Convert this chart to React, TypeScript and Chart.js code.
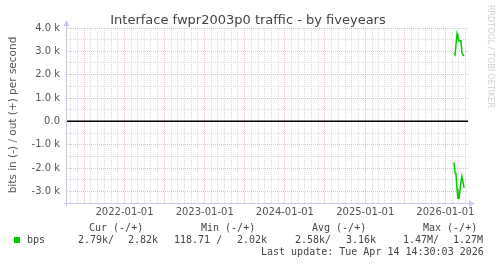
import React, { useEffect, useRef } from 'react';
import { Chart, registerables } from 'chart.js';

Chart.register(...registerables);

const TITLE = 'Interface fwpr2003p0 traffic - by fiveyears';
const Y_LABEL = 'bits in (-) / out (+) per second';
const WATERMARK = 'RRDTOOL / TOBI OETIKER';
const RANGE_START = '2021-04-14';
const RANGE_END = '2026-04-14';
const Y_MIN = -3500;
const Y_MAX = 4000;
const Y_STEP = 500;

const sampleDates = [
  '2026-02-09', '2026-02-14', '2026-02-18', '2026-02-23', '2026-02-27', '2026-03-04',
  '2026-03-08', '2026-03-13', '2026-03-17', '2026-03-22', '2026-03-27',
];
const outValues = [2920, 2850, 2850, 3750, 3600, 3450, 3450, 3450, 2950, 2850, 2800];
const inValues = [-1760, -2200, -2250, -2900, -3300, -3300, -3000, -2600, -2350, -2600, -2850];

const legendHeaders = ['Cur (-/+)', 'Min (-/+)', 'Avg (-/+)', 'Max (-/+)'];
const legendName = 'bps';
const legendStats = ['2.79k/', '2.82k', '118.71 /', '2.02k', '2.58k/', '3.16k', '1.47M/', '1.27M'];
const lastUpdate = 'Last update: Tue Apr 14 14:30:03 2026';

const toMs = (s: string) => Date.parse(s + 'T00:00:00Z');

const monthTicks: number[] = (() => {
  const out: number[] = [];
  const start = toMs(RANGE_START);
  const end = toMs(RANGE_END);
  for (let y = 2021; y <= 2026; y++) {
    for (let m = 0; m < 12; m++) {
      const v = Date.UTC(y, m, 1);
      if (v > start && v <= end) out.push(v);
    }
  }
  return out;
})();

const MAJOR = 'rgba(235, 140, 140, 0.6)';
const MINOR = 'rgba(190, 190, 190, 0.55)';
const AXIS = '#c8c8f4';
const TEXT = '#555555';
const GREEN = '#00cc00';

const decorPlugin = {
  id: 'decor',
  afterDraw(chart: any) {
    const ctx = chart.ctx as CanvasRenderingContext2D;
    const a = chart.chartArea;
    ctx.save();
    // axes
    ctx.strokeStyle = AXIS;
    ctx.fillStyle = AXIS;
    ctx.lineWidth = 1;
    ctx.beginPath();
    ctx.moveTo(a.left - 0.5, a.bottom + 3);
    ctx.lineTo(a.left - 0.5, a.top - 5);
    ctx.moveTo(a.left - 3, a.bottom + 0.5);
    ctx.lineTo(a.right + 3, a.bottom + 0.5);
    ctx.stroke();
    ctx.beginPath();
    ctx.moveTo(a.left - 0.5, a.top - 8);
    ctx.lineTo(a.left - 3.5, a.top - 2);
    ctx.lineTo(a.left + 2.5, a.top - 2);
    ctx.closePath();
    ctx.fill();
    ctx.beginPath();
    ctx.moveTo(a.right + 7, a.bottom + 0.5);
    ctx.lineTo(a.right + 1, a.bottom - 2.5);
    ctx.lineTo(a.right + 1, a.bottom + 3.5);
    ctx.closePath();
    ctx.fill();

    // title
    ctx.fillStyle = '#444444';
    ctx.font = '13px "DejaVu Sans"';
    ctx.textAlign = 'center';
    ctx.textBaseline = 'alphabetic';
    ctx.fillText(TITLE, 248, 24);

    // y label
    ctx.save();
    ctx.translate(13, 115);
    ctx.rotate(-Math.PI / 2);
    ctx.font = '10.5px "DejaVu Sans"';
    ctx.fillStyle = TEXT;
    ctx.textAlign = 'center';
    ctx.textBaseline = 'middle';
    ctx.fillText(Y_LABEL, 0, 0);
    ctx.restore();

    // watermark
    ctx.save();
    ctx.translate(490, 5);
    ctx.rotate(Math.PI / 2);
    ctx.font = '8px "DejaVu Sans"';
    ctx.fillStyle = '#d0d0d0';
    ctx.textAlign = 'left';
    ctx.textBaseline = 'middle';
    ctx.fillText(WATERMARK, 0, 0);
    ctx.restore();

    // legend
    ctx.font = '10px "DejaVu Sans Mono"';
    ctx.fillStyle = '#444444';
    ctx.textAlign = 'left';
    ctx.textBaseline = 'middle';
    const hx = [89, 201, 312, 423];
    legendHeaders.forEach((t, i) => ctx.fillText(t, hx[i], 228));
    ctx.fillStyle = GREEN;
    ctx.fillRect(14, 237, 6, 6);
    ctx.fillStyle = '#444444';
    ctx.fillText(legendName, 27, 240);
    const sx = [78, 128, 174, 237, 295, 346, 403, 453];
    legendStats.forEach((t, i) => ctx.fillText(t, sx[i], 240));
    ctx.fillText(lastUpdate, 261, 252);
    ctx.restore();
  },
};

export default function App() {
  const ref = useRef<HTMLCanvasElement | null>(null);
  useEffect(() => {
    if (!ref.current) return;
    const xs = sampleDates.map(toMs);
    const chart = new Chart(ref.current, {
      type: 'line',
      data: {
        datasets: [
          {
            label: 'out',
            data: xs.map((x, i) => ({ x, y: outValues[i] })),
            borderColor: GREEN,
            borderWidth: 1.5,
            pointRadius: 0,
            tension: 0,
          },
          {
            label: 'in',
            data: xs.map((x, i) => ({ x, y: inValues[i] })),
            borderColor: GREEN,
            borderWidth: 1.5,
            pointRadius: 0,
            tension: 0,
          },
          {
            label: 'zero',
            data: [
              { x: toMs(RANGE_START), y: 0 },
              { x: toMs(RANGE_END), y: 0 },
            ],
            borderColor: '#000000',
            borderWidth: 1.5,
            pointRadius: 0,
          },
        ],
      },
      options: {
        responsive: false,
        animation: false,
        parsing: false,
        layout: { padding: { left: 0, right: 29, top: 28, bottom: 41 } },
        plugins: { legend: { display: false }, tooltip: { enabled: false }, title: { display: false } },
        scales: {
          x: {
            type: 'linear',
            min: toMs(RANGE_START),
            max: toMs(RANGE_END),
            afterBuildTicks: (scale: any) => {
              scale.ticks = monthTicks.map((v) => ({ value: v }));
            },
            afterFit: (scale: any) => {
              scale.height = 20;
            },
            ticks: {
              autoSkip: false,
              maxRotation: 0,
              minRotation: 0,
              padding: 3,
              color: TEXT,
              font: { family: 'DejaVu Sans', size: 10 },
              callback: (value: any) => {
                const d = new Date(Number(value));
                return d.getUTCMonth() === 0 ? `${d.getUTCFullYear()}-01-01` : '';
              },
            },
            grid: {
              drawTicks: false,
              lineWidth: 1,
              color: (c: any) => {
                if (!c.tick) return MINOR;
                const m = new Date(c.tick.value).getUTCMonth();
                return m === 0 || m === 6 ? MAJOR : MINOR;
              },
            },
            border: { display: false, dash: [1, 1] },
          },
          y: {
            type: 'linear',
            min: Y_MIN,
            max: Y_MAX,
            afterFit: (scale: any) => {
              scale.width = 67;
            },
            ticks: {
              stepSize: Y_STEP,
              autoSkip: false,
              padding: 7,
              color: TEXT,
              font: { family: 'DejaVu Sans', size: 10 },
              callback: (value: any) => {
                const v = Number(value);
                if (v % 1000 !== 0) return '';
                if (v === 0) return '0.0';
                return (v / 1000).toFixed(1) + ' k';
              },
            },
            grid: {
              drawTicks: false,
              lineWidth: 1,
              color: (c: any) => {
                if (!c.tick) return MINOR;
                return c.tick.value % 1000 === 0 ? MAJOR : MINOR;
              },
            },
            border: { display: false, dash: [1, 1] },
          },
        },
      },
      plugins: [decorPlugin],
    });
    return () => chart.destroy();
  }, []);
  return (
    <div style={{ position: 'fixed', left: 0, top: 0, width: 497, height: 264, background: '#ffffff' }}>
      <canvas ref={ref} width={497} height={264} style={{ display: 'block' }} />
    </div>
  );
}
